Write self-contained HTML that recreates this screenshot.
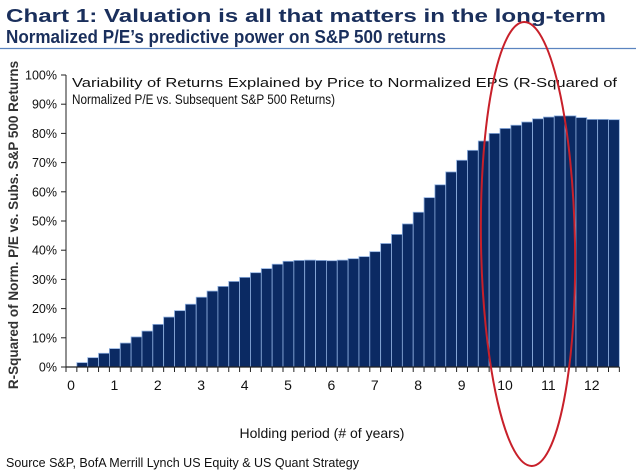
<!DOCTYPE html>
<html><head><meta charset="utf-8"><style>
body{margin:0;background:#fff;}
svg{display:block;font-family:"Liberation Sans",sans-serif;}
</style></head><body>
<svg width="640" height="473" viewBox="0 0 640 473">
<text x="6" y="22" font-size="18" font-weight="bold" fill="#1a2f5c" textLength="600" lengthAdjust="spacingAndGlyphs">Chart 1: Valuation is all that matters in the long-term</text>
<text x="6" y="43" font-size="18" font-weight="bold" fill="#1a2f5c" textLength="440" lengthAdjust="spacingAndGlyphs">Normalized P/E’s predictive power on S&amp;P 500 returns</text>
<line x1="0" y1="48.5" x2="636" y2="48.5" stroke="#5b84c0" stroke-width="1.3"/>
<text x="72" y="87" font-size="13" fill="#111" textLength="545" lengthAdjust="spacingAndGlyphs">Variability of Returns Explained by Price to Normalized EPS (R-Squared of</text>
<text x="72" y="104" font-size="13.5" fill="#111" textLength="263" lengthAdjust="spacingAndGlyphs">Normalized P/E vs. Subsequent S&amp;P 500 Returns)</text>
<g id="plot"></g>
<text x="322" y="438" font-size="14" text-anchor="middle" fill="#111">Holding period (# of years)</text>
<text transform="translate(18,225) rotate(-90)" font-size="13.5" font-weight="bold" text-anchor="middle" fill="#333">R-Squared of Norm. P/E vs. Subs. S&amp;P 500 Returns</text>
<text x="6" y="467" font-size="12.5" fill="#111">Source S&amp;P, BofA Merrill Lynch US Equity &amp; US Quant Strategy</text>
<ellipse cx="528" cy="244" rx="47" ry="222" transform="rotate(-1 528 244)" fill="none" stroke="#c8202a" stroke-width="2"/>
</svg>
<script>
const values = [1.5,3.2,4.7,6.3,8.2,10.3,12.3,14.6,17.1,19.3,21.5,23.9,26.0,27.6,29.3,30.7,32.3,33.7,35.2,36.2,36.5,36.6,36.5,36.4,36.6,37.1,37.8,39.5,42.3,45.4,49.0,53.0,58.0,62.4,66.8,70.8,74.2,77.4,80.0,81.7,82.8,83.9,85.0,85.6,86.0,86.0,85.4,84.8,84.8,84.7];
const yTicks = [0,10,20,30,40,50,60,70,80,90,100];
const xTicks = [0,1,2,3,4,5,6,7,8,9,10,11,12];
const NS="http://www.w3.org/2000/svg";
const g=document.getElementById('plot');
const x0=66, yearPx=43.4, y0=367, yTop=75;
const xs=v=>x0+v*yearPx;
const ys=v=>y0-(v/100)*(y0-yTop);
function mk(t,a){const e=document.createElementNS(NS,t);for(const k in a)e.setAttribute(k,a[k]);g.appendChild(e);return e;}
values.forEach((v,i)=>{
  const q=(i+1)*0.25;
  const r=mk('rect',{x:xs(q),y:ys(v),width:yearPx/4,height:y0-ys(v),fill:'#0b2a63',stroke:'#8fb0e0','stroke-width':0.8});
  
  
});
const ya=mk('line',{x1:x0,y1:yTop,x2:x0,y2:y0,stroke:'#222','stroke-width':1});


yTicks.forEach(t=>{
  const tk=mk('line',{x1:x0-5,y1:ys(t),x2:x0,y2:ys(t),stroke:'#222'});
  
  
  const l=mk('text',{x:x0-9,y:ys(t)+4.5,'font-size':12.5,'text-anchor':'end',fill:'#111'});
  l.textContent=t+'%';
  
  
});
const xa=mk('line',{x1:x0,y1:y0,x2:xs(12.75),y2:y0,stroke:'#222','stroke-width':1.2});


for(let i=0;i<=51;i++){
  const tk=mk('line',{x1:xs(i*0.25),y1:y0,x2:xs(i*0.25),y2:y0+5,stroke:'#222'});
  
  
}
xTicks.forEach(t=>{
  const l=mk('text',{x:xs(t)+5,y:390,'font-size':14,'text-anchor':'middle',fill:'#111'});
  l.textContent=t;
  
  
});
</script>
</body></html>
